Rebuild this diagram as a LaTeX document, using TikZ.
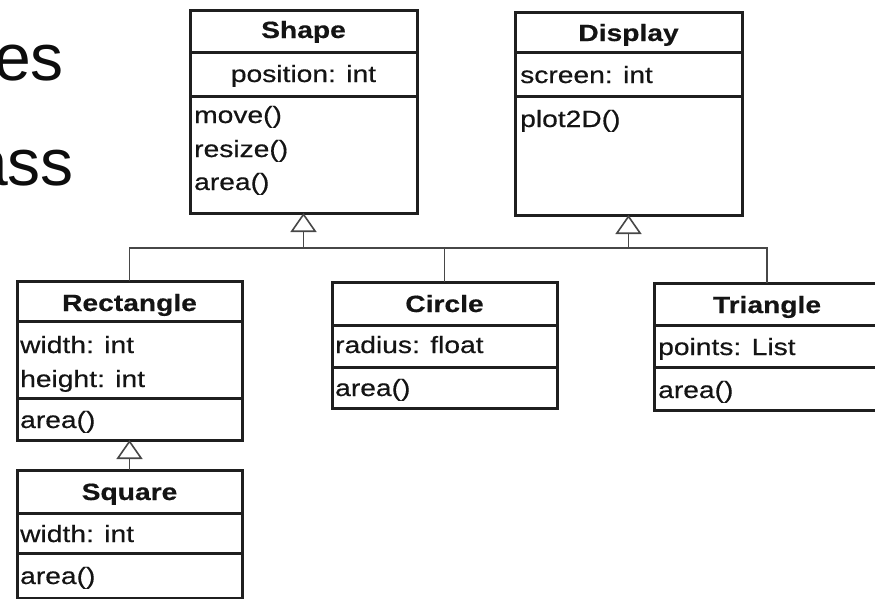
\documentclass[tikz,border=0pt]{standalone}
\usepackage{fontspec}
\setmainfont{Liberation Sans}[FakeStretch=1.2,FakeBold=0.5]
\newfontfamily\bigfont{Liberation Sans}
\usetikzlibrary{arrows.meta,calc}
\newcommand\umldiv[2]{\draw[divline] ($(#1.north west)+(0,#2)$) -- ($(#1.north east)+(0,#2)$);}
\begin{document}
\begin{tikzpicture}[x=1pt,y=-1pt,
  box/.style={draw=black!88, line width=3pt, rectangle, inner sep=0pt, outer sep=0pt, anchor=north west},
  divline/.style={draw=black!88, line width=3pt},
  head/.style={font=\bfseries\fontsize{23.5}{28}\selectfont, anchor=base, inner sep=0pt, text=black!92},
  item/.style={font=\fontsize{23.5}{28}\selectfont, anchor=base west, inner sep=0pt, text=black!92},
  citem/.style={item, anchor=base},
  bigtext/.style={font=\bigfont\fontsize{66}{70}\selectfont, anchor=base east, inner sep=0pt, text=black!95},
  conn/.style={draw=black!72, line width=1.6pt},
  gen/.style={conn, -{Triangle[open, length=19pt, width=26pt]}},
]
\useasboundingbox (0,0) rectangle (875,598);

% fragments of large text at the left
\node[bigtext] (es) at (64,80) {es};
\node[bigtext] (ass) at (74,185) {ass};

% Shape
\node[box, minimum width=227pt, minimum height=203pt] (shape) at (190,10) {};
\umldiv{shape}{42}
\umldiv{shape}{86}
\node[head] (shapeH) at ($(shape.north)+(0,28)$) {Shape};
\node[citem] (shapeA) at ($(shape.north)+(0,72)$) {position: int};
\node[item] (shapeM1) at ($(shape.north west)+(4,113)$) {move()};
\node[item] (shapeM2) at ($(shape.north west)+(4,147)$) {resize()};
\node[item] (shapeM3) at ($(shape.north west)+(4,180)$) {area()};

% Display
\node[box, minimum width=227pt, minimum height=203pt] (display) at (515,12) {};
\umldiv{display}{40}
\umldiv{display}{84}
\node[head] (displayH) at ($(display.north)+(0,29)$) {Display};
\node[item] (displayA) at ($(display.north west)+(5,71)$) {screen: int};
\node[item] (displayM) at ($(display.north west)+(5,115)$) {plot2D()};

% Rectangle
\node[box, minimum width=225pt, minimum height=159pt] (rect) at (17,281) {};
\umldiv{rect}{40}
\umldiv{rect}{117}
\node[head] (rectH) at ($(rect.north)+(0,30)$) {Rectangle};
\node[item] (rectA1) at ($(rect.north west)+(3,72)$) {width: int};
\node[item] (rectA2) at ($(rect.north west)+(3,106)$) {height: int};
\node[item] (rectM) at ($(rect.north west)+(3,147)$) {area()};

% Circle
\node[box, minimum width=225pt, minimum height=126pt] (circ) at (332,282) {};
\umldiv{circ}{43}
\umldiv{circ}{85}
\node[head] (circH) at ($(circ.north)+(0,30)$) {Circle};
\node[item] (circA) at ($(circ.north west)+(3,71)$) {radius: float};
\node[item] (circM) at ($(circ.north west)+(3,114)$) {area()};

% Triangle
\node[box, minimum width=226pt, minimum height=127pt] (tri) at (654,283) {};
\umldiv{tri}{42}
\umldiv{tri}{84}
\node[head] (triH) at ($(tri.north)+(0,30)$) {Triangle};
\node[item] (triA) at ($(tri.north west)+(4,72)$) {points: List};
\node[item] (triM) at ($(tri.north west)+(4,115)$) {area()};

% Square
\node[box, minimum width=225pt, minimum height=128pt] (square) at (17,470) {};
\umldiv{square}{43}
\umldiv{square}{83}
\node[head] (squareH) at ($(square.north)+(0,30)$) {Square};
\node[item] (squareA) at ($(square.north west)+(3,72)$) {width: int};
\node[item] (squareM) at ($(square.north west)+(3,114)$) {area()};

% connectors
\coordinate (bus) at (0,248);
\draw[conn] (rect.north) |- (tri.north |- bus) -- (tri.north);
\draw[conn] (circ.north) -- (circ.north |- bus);
\draw[gen] (shape.south |- bus) -- (shape.south);
\draw[gen] (display.south |- bus) -- (display.south);
\draw[gen] (square.north) -- (rect.south);
\end{tikzpicture}
\end{document}
